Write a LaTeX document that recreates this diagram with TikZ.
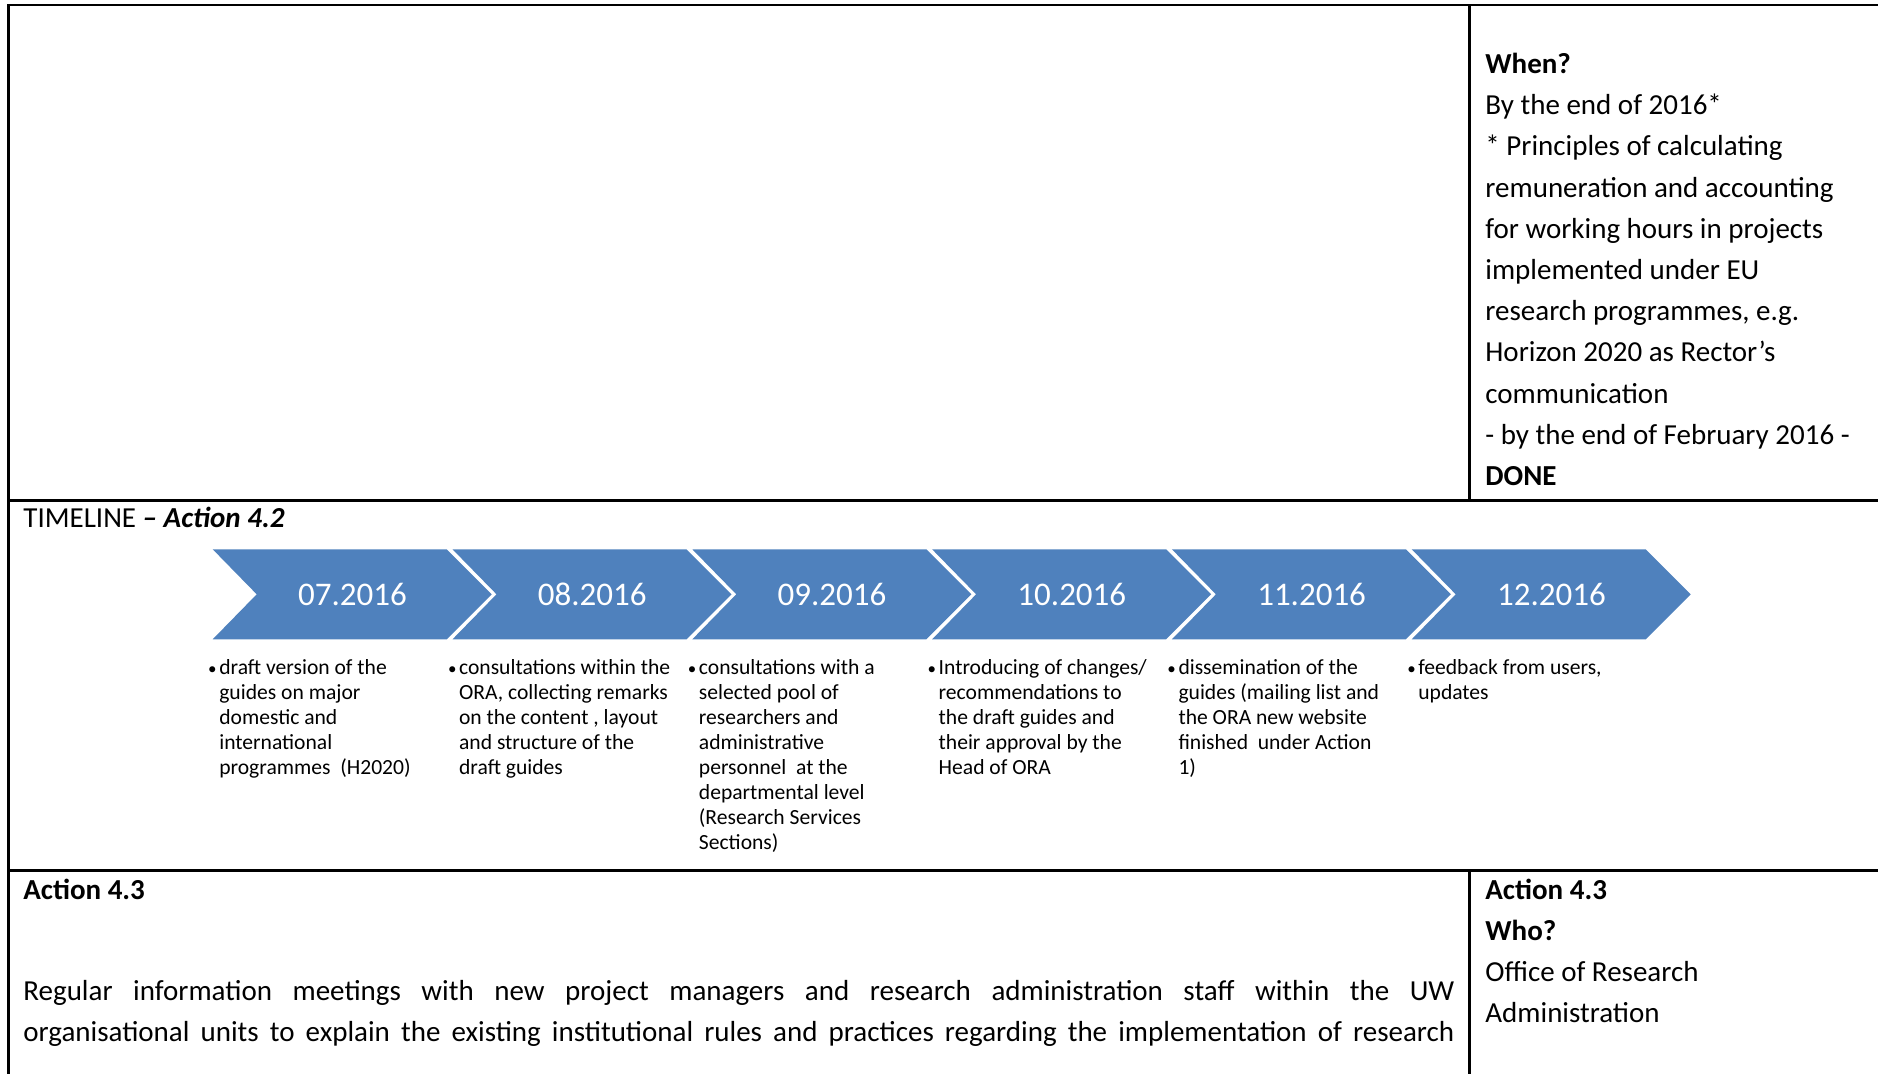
\documentclass[tikz,border=0pt]{standalone}
\usepackage{fontspec}
\setmainfont{Carlito}
\definecolor{chevblue}{HTML}{4F81BD}

\newcommand{\tlbullet}{\llap{{\fontsize{8.5}{9}\selectfont •}\hspace{1.3pt}}}

\begin{document}
\begin{tikzpicture}[x=0.5pt, y=-0.5pt,
    tabrule/.style={line width=1.25pt},
    chev/.style={fill=chevblue},
    datelbl/.style={text=white, inner sep=0pt, font=\fontsize{16.5}{20}\selectfont},
    note/.style={anchor=base west, inner sep=0pt, font=\fontsize{10.8}{12.5}\selectfont},
    body/.style={anchor=base west, inner sep=0pt, font=\fontsize{14.5}{20.6}\selectfont}]

    \useasboundingbox (0,0) rectangle (1878,1074);
    \def\pitch{239.8} % distance between two chevrons

    % table rules
    \draw[tabrule] (8.7,1074) -- (8.7,5.2) -- (1878,5.2);
    \draw[tabrule] (8.7,500.6) -- (1878,500.6);
    \draw[tabrule] (8.7,870.7) -- (1878,870.7);
    \draw[tabrule] (1469.6,5.2) -- (1469.6,500.6);
    \draw[tabrule] (1469.6,870.7) -- (1469.6,1074);

    \node[body] (when) at (1485,73.5) {\begin{tabular}[t]{@{}l@{}}
        \textbf{When?}\\
        By the end of 2016*\\
        {*} Principles of calculating\\
        remuneration and accounting\\
        for working hours in projects\\
        implemented under EU\\
        research programmes, e.g.\\
        Horizon 2020 as Rector’s\\
        communication\\
        - by the end of February 2016 -\\
        \textbf{DONE}
      \end{tabular}};

    \node[body] (timeline) at (23,528) {TIMELINE \textbf{\textit{– Action 4.2}}};

    \foreach \d [count=\k from 0] in {07.2016,08.2016,09.2016,10.2016,11.2016,12.2016} {
      \fill[chev] ({212.7+\k*\pitch},549.3) -- ++(234,0) -- ++(45,45) -- ++(-45,45)
        -- ++(-234,0) -- ++(44,-45) -- cycle;
      \node[datelbl] (d\k) at ({352.4+\k*\pitch},594.3) {\d};
    }

    \node[note] (n0) at (218.9,674) {\begin{tabular}[t]{@{}l@{}}
        \tlbullet draft version of the\\ guides on major\\ domestic and\\ international\\
        programmes\ \ (H2020)\end{tabular}};
    \node[note] (n1) at ({218.9+\pitch},674) {\begin{tabular}[t]{@{}l@{}}
        \tlbullet consultations within the\\ ORA, collecting remarks\\ on the content , layout\\
        and structure of the\\ draft guides\end{tabular}};
    \node[note] (n2) at ({218.9+2*\pitch},674) {\begin{tabular}[t]{@{}l@{}}
        \tlbullet consultations with a\\ selected pool of\\ researchers and\\ administrative\\
        personnel\ \ at the\\ departmental level\\ (Research Services\\ Sections)\end{tabular}};
    \node[note] (n3) at ({218.9+3*\pitch},674) {\begin{tabular}[t]{@{}l@{}}
        \tlbullet Introducing of changes/\\ recommendations to\\ the draft guides and\\
        their approval by the\\ Head of ORA\end{tabular}};
    \node[note] (n4) at ({218.9+4*\pitch},674) {\begin{tabular}[t]{@{}l@{}}
        \tlbullet dissemination of the\\ guides (mailing list and\\ the ORA new website\\
        finished\ \ under Action\\ 1)\end{tabular}};
    \node[note] (n5) at ({218.9+5*\pitch},674) {\begin{tabular}[t]{@{}l@{}}
        \tlbullet feedback from users,\\ updates\end{tabular}};

    % bottom row
    \node[body] (act) at (23,899) {\textbf{Action 4.3}};
    \node[body] (reg1) at (23,1000.5) {\makebox[715.5pt][s]{Regular information meetings with new project managers and research administration staff within the UW}};
    \node[body] (reg2) at (23,1041.7) {\makebox[715.5pt][s]{organisational units to explain the existing institutional rules and practices regarding the implementation of research}};
    \node[body] (who) at (1485,899) {\begin{tabular}[t]{@{}l@{}}
        \textbf{Action 4.3}\\ \textbf{Who?}\\ Office of Research\\ Administration
      \end{tabular}};

  \end{tikzpicture}
\end{document}
